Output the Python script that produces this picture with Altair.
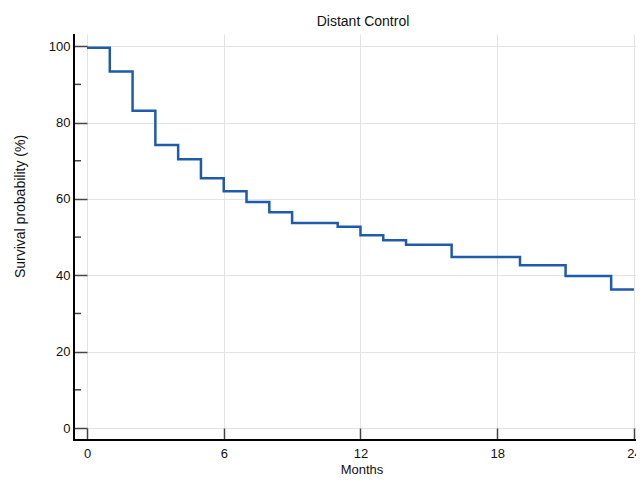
import altair as alt
import pandas as pd

# Kaplan-Meier step data (months, survival %)
months = [0, 1, 2, 3, 4, 5, 6, 7, 8, 9, 11, 12, 13, 14, 16, 19, 21, 23, 24]
survival = [99.6, 93.4, 83.1, 74.1, 70.4, 65.4, 62.0, 59.2, 56.5, 53.7, 52.7,
            50.5, 49.2, 48.0, 44.8, 42.6, 39.8, 36.3, 36.3]
x_ticks = [0, 6, 12, 18, 24]
y_ticks = [0, 20, 40, 60, 80, 100]
y_minor = [10, 30, 50, 70, 90]
chart_title = ["Distant Control"]

FONT = "Liberation Sans"
W, H = 549, 394

df = pd.DataFrame({"Months": months, "Survival": survival})
minor_df = pd.DataFrame({"v": y_minor})
title_df = pd.DataFrame({"t": chart_title})

xscale = alt.Scale(domain=[0, 24.09], nice=False, zero=False)
yscale = alt.Scale(domain=[0, 103.2], nice=False)

line = alt.Chart(df).mark_line(
    interpolate="step-after", color="#1f5bab", strokeWidth=2.5
).encode(
    x=alt.X("Months:Q", scale=xscale,
            axis=alt.Axis(values=x_ticks, title="Months", grid=True,
                          gridColor="#e3e3e3", gridWidth=1, domain=False,
                          tickSize=12, tickColor="#444", tickWidth=1.5,
                          labelPadding=7, labelFontSize=13, labelColor="#111",
                          labelFont=FONT, titleFont=FONT, titleFontSize=13,
                          titleFontWeight="normal", titleColor="#111",
                          titleBaseline="alphabetic", titleY=45,
                          labelFlush=False)),
    y=alt.Y("Survival:Q", scale=yscale,
            axis=alt.Axis(values=y_ticks, title="Survival probability (%)",
                          grid=True, gridColor="#e3e3e3", gridWidth=1,
                          domain=False, tickSize=13, tickColor="#444",
                          tickWidth=1.5, labelPadding=4, labelFontSize=13,
                          labelColor="#111", labelFont=FONT, titleFont=FONT,
                          titleFontSize=14, titleFontWeight="normal",
                          titleColor="#111", titleBaseline="alphabetic",
                          titleAngle=270, titleX=-63, titleY=172,
                          titleAlign="center", labelFlush=False)),
)

minor = alt.Chart(minor_df).mark_rule(color="#444", strokeWidth=1.5).encode(
    y=alt.Y("v:Q", scale=yscale),
    x=alt.value(-13),
    x2=alt.value(-6),
)

yaxis_line = alt.Chart(minor_df).mark_rule(color="black", strokeWidth=2).encode(
    x=alt.value(-13), y=alt.value(0), y2=alt.value(407)
)
xaxis_line = alt.Chart(minor_df).mark_rule(color="black", strokeWidth=2).encode(
    y=alt.value(406), x=alt.value(-14), x2=alt.value(W + 10)
)

title = alt.Chart(title_df).mark_text(
    font=FONT, fontSize=14, color="#111", align="center", baseline="alphabetic"
).encode(
    text="t:N", x=alt.value(276), y=alt.value(-8.5)
)

chart = alt.layer(line, minor, yaxis_line, xaxis_line, title).properties(
    width=W, height=H,
    autosize=alt.AutoSizeParams(type="none"),
    padding={"left": 79, "top": 26, "right": 0, "bottom": 48},
).configure_view(stroke=None)

chart.save("out.html", embed_options={"renderer": "svg", "actions": False})
